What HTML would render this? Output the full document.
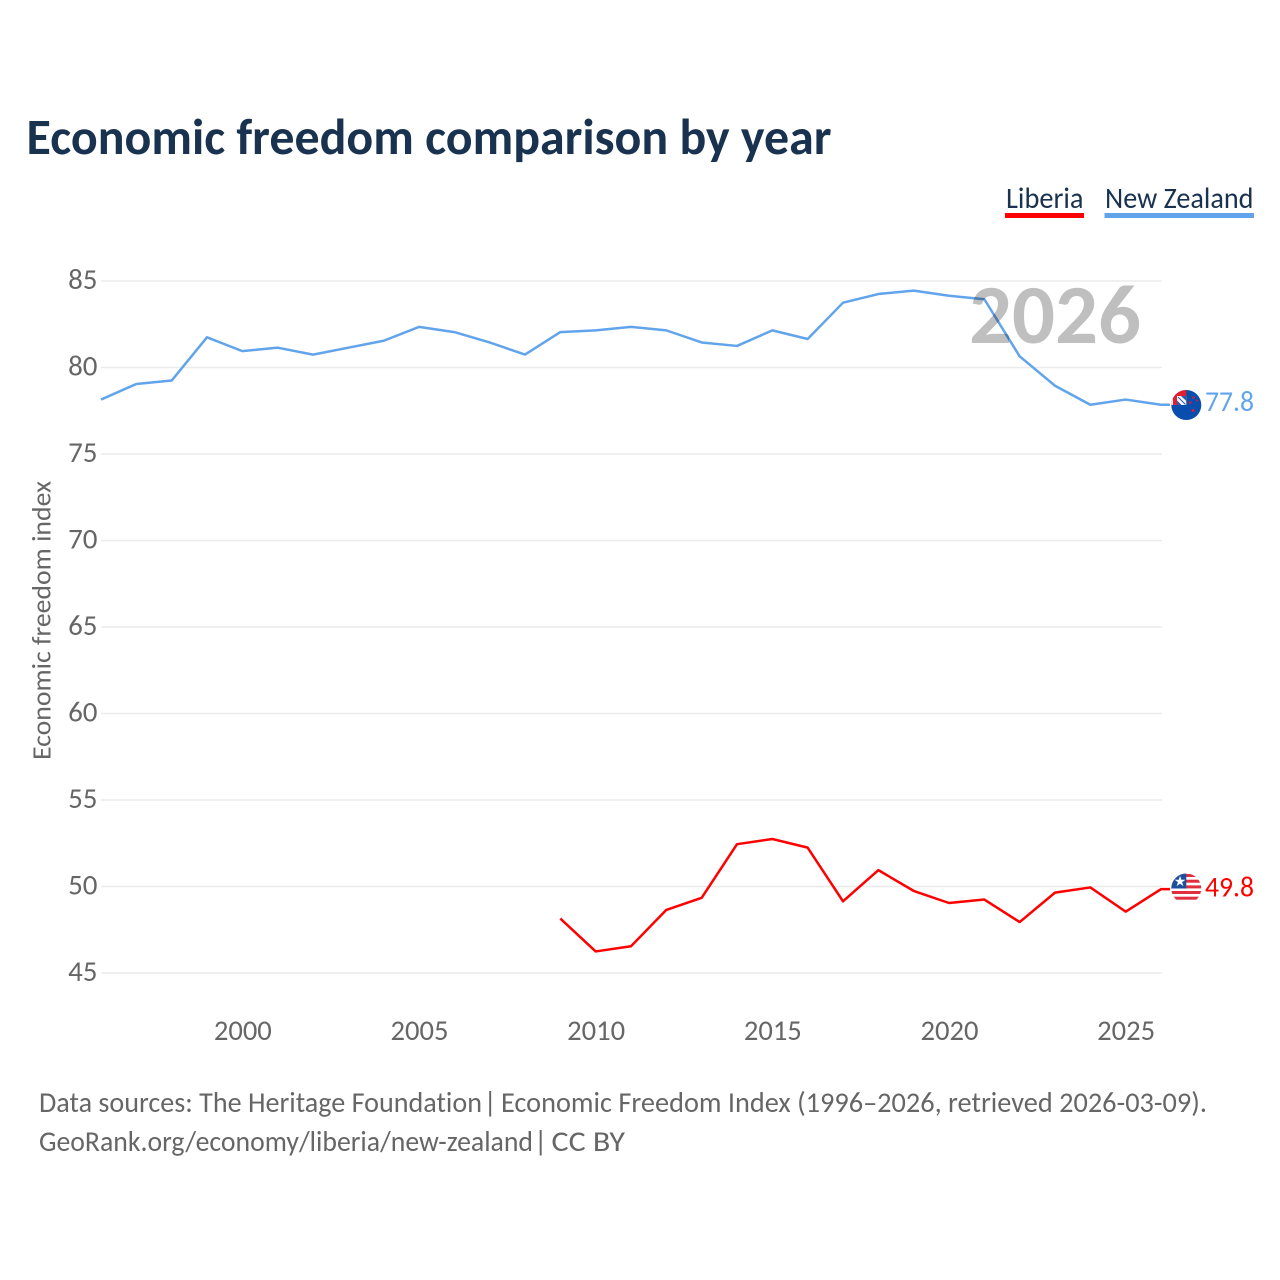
<!DOCTYPE html>
<html lang="en">
<head>
<meta charset="utf-8">
<title>Economic freedom comparison by year</title>
<style>
html,body{margin:0;padding:0;background:#fff;width:1280px;height:1280px;overflow:hidden}
svg{display:block}
text{font-family:"Carlito","Lato","Liberation Sans",sans-serif;font-variant-ligatures:none}
</style>
</head>
<body>
<svg id="chart" xmlns="http://www.w3.org/2000/svg" width="1280" height="1280" viewBox="0 0 1280 1280">
  <rect x="0" y="0" width="1280" height="1280" fill="#ffffff"/>
  <text x="26.500" y="154" font-size="51" font-weight="700" fill="#18324f" textLength="805" lengthAdjust="spacingAndGlyphs">Economic freedom comparison by year</text>

  <g>
    <text x="1006" y="208" font-size="29.500" fill="#18324f" textLength="77.500" lengthAdjust="spacingAndGlyphs">Liberia</text>
    <rect x="1005" y="213" width="79" height="5" fill="#ff0000"/>
  </g>
  <g>
    <text x="1105" y="208" font-size="29.500" fill="#18324f" textLength="148.500" lengthAdjust="spacingAndGlyphs">New Zealand</text>
    <rect x="1104.500" y="213" width="149.500" height="5" fill="#62a4ec"/>
  </g>

  <g id="grid"></g>
  <g id="yticks"></g>
  <g id="xticks"></g>
  <text transform="translate(50.500,760) rotate(-90)" x="0" y="0" font-size="27" fill="#666666" textLength="279" lengthAdjust="spacingAndGlyphs">Economic freedom index</text>

  <g id="series"></g>
  <text x="969" y="343" font-size="84" font-weight="700" fill="#000000" fill-opacity="0.25" textLength="172" lengthAdjust="spacingAndGlyphs">2026</text>

  <defs>
    <clipPath id="clip-nz"><circle cx="1186.300" cy="405" r="15"/></clipPath>
    <clipPath id="clip-lr"><circle cx="1186.300" cy="888.500" r="15"/></clipPath>
  </defs>

  <g>
    <g clip-path="url(#clip-nz)">
      <rect x="1171" y="389" width="32" height="32" fill="#0a4ead"/>
      <rect x="1171" y="389" width="15.300" height="16" fill="#e02030"/>
      <rect x="1171" y="389" width="2" height="16" fill="#f0e8e8"/>
      <rect x="1177" y="396" width="9.300" height="9" fill="#f6f6fa"/>
      <path d="M1181 396 L1186.300 396 L1186.300 401 Z" fill="#2a5aa8"/>
      <path d="M1177 400.500 L1177 405 L1181.500 405 Z" fill="#2a5aa8"/>
      <path d="M1178 397 L1185.500 404.500" stroke="#2a5aa8" stroke-width="1"/>
      <circle cx="1190" cy="402.500" r="1.300" fill="#d81e3a"/>
      <circle cx="1193.500" cy="397.500" r="1.300" fill="#d81e3a"/>
      <circle cx="1197" cy="400.500" r="1" fill="#d81e3a"/>
      <circle cx="1193" cy="410.500" r="1.500" fill="#d81e3a"/>
    </g>
  </g>
  <text id="label-nz" x="1205" y="411" font-size="29" fill="#62a4ec" textLength="49" lengthAdjust="spacingAndGlyphs"></text>

  <g>
    <g clip-path="url(#clip-lr)">
      <rect x="1171" y="873" width="31" height="31" fill="#ffffff"/>
      <rect x="1171" y="874" width="31" height="3" fill="#e0303f"/>
      <rect x="1171" y="879.700" width="31" height="3" fill="#e0303f"/>
      <rect x="1171" y="885.400" width="31" height="3" fill="#e0303f"/>
      <rect x="1171" y="891" width="31" height="3" fill="#e0303f"/>
      <rect x="1171" y="896.700" width="31" height="3" fill="#e0303f"/>
      <rect x="1171" y="873" width="15.300" height="15.500" fill="#1d4f9c"/>
      <text x="1180" y="886" font-size="14" fill="#ffffff" text-anchor="middle">★</text>
    </g>
  </g>
  <text id="label-lr" x="1205" y="896.500" font-size="29" fill="#ff0000" textLength="49" lengthAdjust="spacingAndGlyphs"></text>

  <g fill="#666666" font-size="29">
    <text x="39" y="1112" textLength="443" lengthAdjust="spacingAndGlyphs">Data sources: The Heritage Foundation</text>
    <text x="483.500" y="1112">|</text>
    <text x="501" y="1112" textLength="706" lengthAdjust="spacingAndGlyphs">Economic Freedom Index (1996–2026, retrieved 2026-03-09).</text>
  </g>
  <g fill="#666666" font-size="29">
    <text x="39" y="1151" textLength="494" lengthAdjust="spacingAndGlyphs">GeoRank.org/economy/liberia/new-zealand</text>
    <text x="534" y="1151">|</text>
    <text x="551.500" y="1151" textLength="73.500" lengthAdjust="spacingAndGlyphs">CC BY</text>
  </g>
</svg>
<script>
const yTickValues = [45, 50, 55, 60, 65, 70, 75, 80, 85];
const xTickValues = [2000, 2005, 2010, 2015, 2020, 2025];
const nzYears = [1996,1997,1998,1999,2000,2001,2002,2003,2004,2005,2006,2007,2008,2009,2010,2011,2012,2013,2014,2015,2016,2017,2018,2019,2020,2021,2022,2023,2024,2025,2026];
const nzValues = [78.1,79.0,79.2,81.7,80.9,81.1,80.7,81.1,81.5,82.3,82.0,81.4,80.7,82.0,82.1,82.3,82.1,81.4,81.2,82.1,81.6,83.7,84.2,84.4,84.1,83.9,80.6,78.9,77.8,78.1,77.8];
const liberiaYears = [2009,2010,2011,2012,2013,2014,2015,2016,2017,2018,2019,2020,2021,2022,2023,2024,2025,2026];
const liberiaValues = [48.1,46.2,46.5,48.6,49.3,52.4,52.7,52.2,49.1,50.9,49.7,49.0,49.2,47.9,49.6,49.9,48.5,49.8];

const NS = 'http://www.w3.org/2000/svg';
function xScale(year) { return 101 + (year - 1996) * (1060 / 30); }
function yScale(value) { return 973 - (value - 45) * (692 / 40); }
function lineY(value) { return yScale(value) - 0.8; }
function make(tag, attrs, parent) {
  const el = document.createElementNS(NS, tag);
  for (const k in attrs) el.setAttribute(k, attrs[k]);
  parent.appendChild(el);
  return el;
}
function linePoints(years, values) {
  const pts = years.map(function (yr, i) { return xScale(yr).toFixed(2) + ',' + lineY(values[i]).toFixed(2); });
  pts.push('1170,' + lineY(values[values.length - 1]).toFixed(2));
  return pts.join(' ');
}

const grid = document.getElementById('grid');
const yticks = document.getElementById('yticks');
const xticks = document.getElementById('xticks');
const series = document.getElementById('series');

yTickValues.forEach(function (v) {
  const line = make('line', {x1: 101, x2: 1162, y1: yScale(v), y2: yScale(v), stroke: '#ebebeb', 'stroke-width': 1.5}, grid);
  
  
  const t = make('text', {x: 97.5, y: yScale(v) + 8, 'font-size': 29, fill: '#666666', 'text-anchor': 'end'}, yticks);
  
  
  t.textContent = v;
});

xTickValues.forEach(function (yr) {
  const t = make('text', {x: xScale(yr) + 0.5, y: 1040, 'font-size': 28.6, fill: '#666666', 'text-anchor': 'middle'}, xticks);
  
  
  t.textContent = yr;
});

const nzLine = make('polyline', {points: linePoints(nzYears, nzValues), fill: 'none', stroke: '#62a4ec', 'stroke-width': 2.5, 'stroke-linejoin': 'round'}, series);



const liberiaLine = make('polyline', {points: linePoints(liberiaYears, liberiaValues), fill: 'none', stroke: '#ff0000', 'stroke-width': 2.5, 'stroke-linejoin': 'round'}, series);



document.getElementById('label-nz').textContent = nzValues[nzValues.length - 1].toFixed(1);
document.getElementById('label-lr').textContent = liberiaValues[liberiaValues.length - 1].toFixed(1);
</script>
</body>
</html>
